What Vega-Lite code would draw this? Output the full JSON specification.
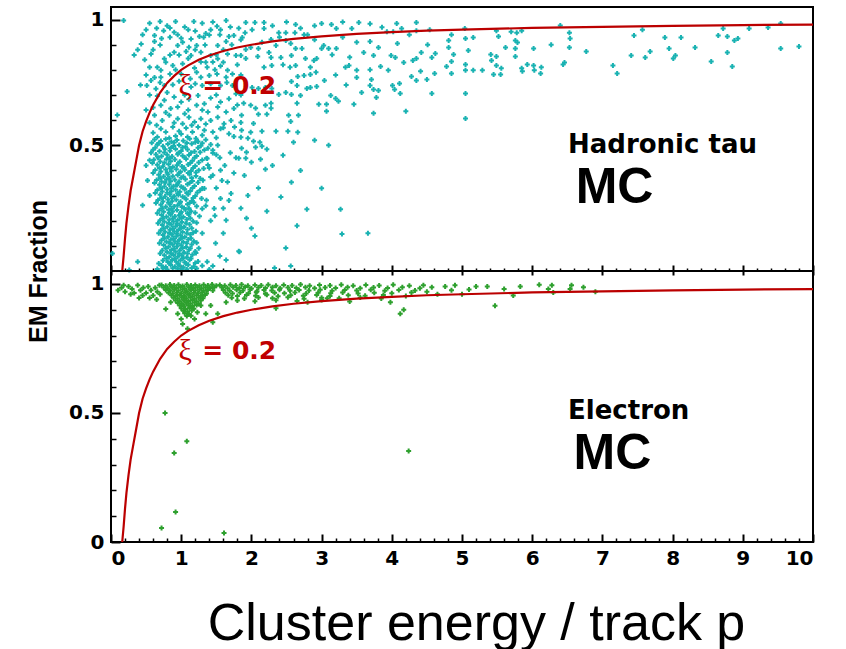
{
"$schema": "https://vega.github.io/schema/vega-lite/v6.json",
"padding": {"left": 25, "top": 6, "right": 5, "bottom": 5},
"background": "white",
"bounds": "flush",
"spacing": 0,
"config": {"view": {"stroke": "black", "strokeWidth": 2}, "axis": {"labelColor": "black", "tickColor": "black", "domain": false, "grid": false, "titleColor": "black", "zindex": 2}},
"datasets": {
"curve": [{"x":0.16,"y":0},{"x":0.18,"y":0.06},{"x":0.2,"y":0.13},{"x":0.22,"y":0.19},{"x":0.25,"y":0.26},{"x":0.28,"y":0.32},{"x":0.32,"y":0.38},{"x":0.36,"y":0.44},{"x":0.4,"y":0.5},{"x":0.45,"y":0.555},{"x":0.5,"y":0.595},{"x":0.55,"y":0.63},{"x":0.6,"y":0.66},{"x":0.7,"y":0.71},{"x":0.8,"y":0.748},{"x":0.9,"y":0.776},{"x":1.0,"y":0.8},{"x":1.1,"y":0.818},{"x":1.25,"y":0.84},{"x":1.4,"y":0.857},{"x":1.6,"y":0.875},{"x":1.8,"y":0.889},{"x":2.0,"y":0.9},{"x":2.3,"y":0.913},{"x":2.6,"y":0.923},{"x":3.0,"y":0.933},{"x":3.5,"y":0.943},{"x":4.0,"y":0.95},{"x":4.5,"y":0.956},{"x":5,"y":0.96},{"x":6,"y":0.967},{"x":7,"y":0.971},{"x":8,"y":0.975},{"x":9,"y":0.978},{"x":10,"y":0.98}],
"tau": [
{"x":3.69,"y":0.983},{"x":3.86,"y":0.969},{"x":4.07,"y":0.984},{"x":4.35,"y":0.988},{"x":4.14,"y":0.964},{"x":3.93,"y":0.952},{"x":4.02,"y":0.952},{"x":4.35,"y":0.956},{"x":4.54,"y":0.96},{"x":4.25,"y":0.94},{"x":3.69,"y":0.913},{"x":3.81,"y":0.889},{"x":4.08,"y":0.905},{"x":4.51,"y":0.9},{"x":3.74,"y":0.857},{"x":3.99,"y":0.857},{"x":4.05,"y":0.849},{"x":4.17,"y":0.829},{"x":4.3,"y":0.837},{"x":4.35,"y":0.845},{"x":4.42,"y":0.869},{"x":4.57,"y":0.849},{"x":4.62,"y":0.865},{"x":3.69,"y":0.8},{"x":3.84,"y":0.813},{"x":3.95,"y":0.798},{"x":3.71,"y":0.762},{"x":3.69,"y":0.738},{"x":3.74,"y":0.722},{"x":3.81,"y":0.718},{"x":3.78,"y":0.69},{"x":4.01,"y":0.738},{"x":4.04,"y":0.722},{"x":4.12,"y":0.706},{"x":4.11,"y":0.746},{"x":4.28,"y":0.774},{"x":4.35,"y":0.758},{"x":4.41,"y":0.794},{"x":4.5,"y":0.762},{"x":4.61,"y":0.786},{"x":4.57,"y":0.706},{"x":3.74,"y":0.627},{"x":4.2,"y":0.635},{"x":4.81,"y":0.917},{"x":4.85,"y":0.94},{"x":5.05,"y":0.925},{"x":5.16,"y":0.929},{"x":5.04,"y":0.964},{"x":4.81,"y":0.889},{"x":5.09,"y":0.877},{"x":4.88,"y":0.861},{"x":4.78,"y":0.813},{"x":4.85,"y":0.833},{"x":5.05,"y":0.821},{"x":5.05,"y":0.798},{"x":5.16,"y":0.798},{"x":5.29,"y":0.798},{"x":4.85,"y":0.786},{"x":5.05,"y":0.706},{"x":5.05,"y":0.607},{"x":5.41,"y":0.861},{"x":5.49,"y":0.853},{"x":5.42,"y":0.837},{"x":5.49,"y":0.817},{"x":5.56,"y":0.806},{"x":5.45,"y":0.782},{"x":5.55,"y":0.782},{"x":5.52,"y":0.933},{"x":5.49,"y":0.956},{"x":5.7,"y":0.952},{"x":5.78,"y":0.948},{"x":5.85,"y":0.956},{"x":5.76,"y":0.917},{"x":5.79,"y":0.909},{"x":5.62,"y":0.889},{"x":5.76,"y":0.885},{"x":5.76,"y":0.853},{"x":5.85,"y":0.806},{"x":5.86,"y":0.794},{"x":5.93,"y":0.821},{"x":6.02,"y":0.817},{"x":6.13,"y":0.81},{"x":6.03,"y":0.798},{"x":6.12,"y":0.786},{"x":6.02,"y":0.885},{"x":6.27,"y":0.9},{"x":6.4,"y":0.976},{"x":6.53,"y":0.948},{"x":6.54,"y":0.925},{"x":6.53,"y":0.889},{"x":6.46,"y":0.829},{"x":6.44,"y":0.821},{"x":6.77,"y":0.873},{"x":7.15,"y":0.817},{"x":7.21,"y":0.786},{"x":7.41,"y":0.857},{"x":7.45,"y":0.937},{"x":7.57,"y":0.96},{"x":7.61,"y":0.849},{"x":7.68,"y":0.873},{"x":7.89,"y":0.929},{"x":7.95,"y":0.885},{"x":8.01,"y":0.845},{"x":8.04,"y":0.857},{"x":8.12,"y":0.929},{"x":8.32,"y":0.889},{"x":8.55,"y":0.833},{"x":8.65,"y":0.937},{"x":8.72,"y":0.964},{"x":8.78,"y":0.933},{"x":8.78,"y":0.869},{"x":8.85,"y":0.813},{"x":8.88,"y":0.917},{"x":8.93,"y":0.925},{"x":9.09,"y":0.964},{"x":9.36,"y":0.968},{"x":9.54,"y":0.984},{"x":9.54,"y":0.885},{"x":9.8,"y":0.893},{"x":3.66,"y":0.15},
{"x":1.92,"y":0.988},{"x":2.05,"y":0.988},{"x":2.18,"y":0.988},{"x":2.18,"y":0.964},{"x":2.01,"y":0.96},{"x":1.91,"y":0.948},{"x":1.87,"y":0.929},{"x":2.63,"y":0.98},{"x":3.0,"y":0.984},{"x":3.14,"y":0.98},{"x":3.21,"y":0.964},{"x":3.43,"y":0.964},{"x":3.53,"y":0.988},{"x":2.39,"y":0.948},{"x":2.49,"y":0.948},{"x":2.62,"y":0.948},{"x":2.75,"y":0.94},{"x":2.8,"y":0.94},{"x":2.28,"y":0.921},{"x":2.49,"y":0.917},{"x":2.35,"y":0.897},{"x":2.56,"y":0.905},{"x":2.63,"y":0.885},{"x":2.72,"y":0.885},{"x":3.03,"y":0.897},{"x":3.0,"y":0.885},{"x":3.1,"y":0.885},{"x":3.21,"y":0.885},{"x":3.6,"y":0.869},{"x":1.92,"y":0.881},{"x":1.99,"y":0.889},{"x":2.1,"y":0.885},{"x":1.85,"y":0.857},{"x":1.92,"y":0.845},{"x":2.09,"y":0.853},{"x":2.28,"y":0.849},{"x":2.42,"y":0.849},{"x":2.18,"y":0.81},{"x":2.29,"y":0.817},{"x":2.55,"y":0.81},{"x":2.63,"y":0.817},{"x":2.77,"y":0.845},{"x":2.89,"y":0.837},{"x":2.93,"y":0.845},{"x":2.66,"y":0.774},{"x":2.75,"y":0.778},{"x":2.84,"y":0.782},{"x":2.92,"y":0.79},{"x":2.57,"y":0.754},{"x":2.65,"y":0.738},{"x":2.79,"y":0.726},{"x":2.84,"y":0.73},{"x":2.93,"y":0.734},{"x":3.04,"y":0.758},{"x":3.34,"y":0.81},{"x":3.39,"y":0.817},{"x":3.5,"y":0.798},{"x":3.5,"y":0.77},{"x":3.57,"y":0.71},{"x":3.13,"y":0.698},{"x":3.2,"y":0.686},{"x":3.24,"y":0.675},{"x":3.07,"y":0.663},{"x":2.96,"y":0.663},{"x":3.07,"y":0.635},{"x":3.46,"y":0.663},{"x":2.7,"y":0.698},{"x":2.65,"y":0.667},{"x":2.57,"y":0.702},{"x":2.39,"y":0.702},{"x":2.49,"y":0.71},{"x":2.29,"y":0.726},{"x":2.2,"y":0.73},{"x":2.1,"y":0.726},{"x":2.01,"y":0.73},{"x":1.89,"y":0.667},{"x":1.99,"y":0.659},{"x":2.06,"y":0.647},{"x":2.2,"y":0.659},{"x":2.28,"y":0.667},{"x":2.28,"y":0.647},{"x":2.1,"y":0.623},{"x":2.22,"y":0.623},{"x":2.53,"y":0.619},{"x":2.67,"y":0.619},{"x":2.56,"y":0.595},{"x":1.86,"y":0.619},{"x":1.85,"y":0.591},{"x":2.03,"y":0.587},{"x":1.86,"y":0.56},{"x":1.99,"y":0.552},{"x":2.15,"y":0.556},{"x":2.35,"y":0.556},{"x":2.52,"y":0.556},{"x":2.66,"y":0.552},{"x":2.25,"y":0.869},{"x":2.84,"y":0.81},{"x":2.57,"y":0.857},
{"x":1.85,"y":0.532},{"x":1.95,"y":0.528},{"x":2.03,"y":0.516},{"x":2.12,"y":0.512},{"x":2.15,"y":0.496},{"x":2.06,"y":0.492},{"x":1.86,"y":0.488},{"x":1.93,"y":0.472},{"x":2.22,"y":0.484},{"x":1.92,"y":0.448},{"x":1.82,"y":0.448},{"x":2.0,"y":0.433},{"x":2.13,"y":0.444},{"x":2.2,"y":0.405},{"x":2.6,"y":0.512},{"x":2.57,"y":0.353},{"x":3.0,"y":0.329},{"x":2.42,"y":0.294},{"x":2.79,"y":0.246},{"x":3.27,"y":0.246},{"x":2.22,"y":0.238},{"x":1.93,"y":0.21},{"x":2.05,"y":0.139},{"x":3.29,"y":0.147},{"x":2.49,"y":0.091},{"x":1.82,"y":0.079},{"x":2.33,"y":0.012},{"x":2.56,"y":0.02},
{"x":0.18,"y":0.996},{"x":0.7,"y":0.992},{"x":0.92,"y":0.992},{"x":1.18,"y":0.992},{"x":1.64,"y":0.996},{"x":0.5,"y":0.96},{"x":0.75,"y":0.956},{"x":0.84,"y":0.966},{"x":0.9,"y":0.95},{"x":1.42,"y":0.96},{"x":1.51,"y":0.973},{"x":1.56,"y":0.96},{"x":0.62,"y":0.937},{"x":0.84,"y":0.93},{"x":1.0,"y":0.926},{"x":1.14,"y":0.923},{"x":1.26,"y":0.933},{"x":1.32,"y":0.93},{"x":1.4,"y":0.939},{"x":1.68,"y":0.933},{"x":1.75,"y":0.937},{"x":0.43,"y":0.903},{"x":0.62,"y":0.913},{"x":0.7,"y":0.899},{"x":0.95,"y":0.897},{"x":1.02,"y":0.91},{"x":1.11,"y":0.89},{"x":1.22,"y":0.897},{"x":1.34,"y":0.899},{"x":1.52,"y":0.897},{"x":1.64,"y":0.913},{"x":0.33,"y":0.859},{"x":0.57,"y":0.863},{"x":0.76,"y":0.844},{"x":0.84,"y":0.859},{"x":0.97,"y":0.859},{"x":1.07,"y":0.873},{"x":1.14,"y":0.857},{"x":1.28,"y":0.87},{"x":1.42,"y":0.857},{"x":1.52,"y":0.844},{"x":1.66,"y":0.863},{"x":1.78,"y":0.857},{"x":0.66,"y":0.81},{"x":0.71,"y":0.798},{"x":0.88,"y":0.817},{"x":1.02,"y":0.824},{"x":1.19,"y":0.807},{"x":1.28,"y":0.831},{"x":1.37,"y":0.81},{"x":1.45,"y":0.831},{"x":1.56,"y":0.815},{"x":1.66,"y":0.798},{"x":0.5,"y":0.78},{"x":0.57,"y":0.758},{"x":0.71,"y":0.771},{"x":0.84,"y":0.784},{"x":1.0,"y":0.784},{"x":1.13,"y":0.765},{"x":1.28,"y":0.771},{"x":1.4,"y":0.778},{"x":1.51,"y":0.784},{"x":1.64,"y":0.771},{"x":1.73,"y":0.784},{"x":0.23,"y":0.714},{"x":0.51,"y":0.738},{"x":0.64,"y":0.725},{"x":0.76,"y":0.738},{"x":0.88,"y":0.741},{"x":1.14,"y":0.732},{"x":1.3,"y":0.738},{"x":1.42,"y":0.745},{"x":1.56,"y":0.738},{"x":1.73,"y":0.738},{"x":0.66,"y":0.696},{"x":0.76,"y":0.679},{"x":0.9,"y":0.692},{"x":1.0,"y":0.672},{"x":1.11,"y":0.683},{"x":1.24,"y":0.698},{"x":1.33,"y":0.665},{"x":1.42,"y":0.688},{"x":1.56,"y":0.672},{"x":1.68,"y":0.685},{"x":1.78,"y":0.705},{"x":0.09,"y":0.62},{"x":0.71,"y":0.659},{"x":0.85,"y":0.646},{"x":0.95,"y":0.652},{"x":1.1,"y":0.64},{"x":1.22,"y":0.659},{"x":1.38,"y":0.632},{"x":1.52,"y":0.652},{"x":1.64,"y":0.632},{"x":1.75,"y":0.646},{"x":0.62,"y":0.619},{"x":0.73,"y":0.599},{"x":0.83,"y":0.619},{"x":0.95,"y":0.606},{"x":1.02,"y":0.586},{"x":1.11,"y":0.612},{"x":1.19,"y":0.593},{"x":1.28,"y":0.606},{"x":1.42,"y":0.599},{"x":1.52,"y":0.612},{"x":1.61,"y":0.586},{"x":1.71,"y":0.599},{"x":0.71,"y":0.566},{"x":0.78,"y":0.553},{"x":0.88,"y":0.573},{"x":0.97,"y":0.556},{"x":1.07,"y":0.569},{"x":1.16,"y":0.553},{"x":1.24,"y":0.573},{"x":1.33,"y":0.56},{"x":1.45,"y":0.553},{"x":1.56,"y":0.566},{"x":1.68,"y":0.546},{"x":1.76,"y":0.573},{"x":0.66,"y":0.533},{"x":0.83,"y":0.529},{"x":0.92,"y":0.537},{"x":1.09,"y":0.533},{"x":1.21,"y":0.527},
{"x":0.55,"y":0.985},{"x":0.8,"y":0.975},{"x":1.05,"y":0.97},{"x":1.3,"y":0.985},{"x":1.45,"y":0.99},{"x":1.7,"y":0.97},{"x":0.65,"y":0.965},{"x":1.2,"y":0.955},{"x":1.35,"y":0.945},{"x":1.55,"y":0.94},{"x":1.82,"y":0.965},{"x":0.95,"y":0.94},{"x":1.1,"y":0.96},{"x":0.72,"y":0.925},{"x":0.45,"y":0.94},{"x":0.38,"y":0.88},{"x":0.48,"y":0.84},{"x":0.6,"y":0.88},{"x":1.6,"y":0.88},{"x":1.72,"y":0.9},{"x":1.85,"y":0.92},{"x":0.9,"y":0.87},{"x":1.2,"y":0.88},{"x":1.5,"y":0.86},{"x":0.55,"y":0.81},{"x":0.78,"y":0.83},{"x":1.1,"y":0.845},{"x":1.35,"y":0.83},{"x":1.6,"y":0.83},{"x":1.8,"y":0.82},{"x":0.62,"y":0.77},{"x":0.92,"y":0.8},{"x":1.22,"y":0.79},{"x":1.48,"y":0.8},{"x":1.85,"y":0.78},{"x":0.42,"y":0.74},{"x":0.7,"y":0.75},{"x":0.97,"y":0.755},{"x":1.2,"y":0.745},{"x":1.65,"y":0.75},{"x":0.55,"y":0.7},{"x":0.8,"y":0.71},{"x":1.05,"y":0.7},{"x":1.5,"y":0.7},{"x":1.85,"y":0.7},{"x":0.5,"y":0.64},{"x":0.6,"y":0.65},{"x":0.78,"y":0.63},{"x":1.05,"y":0.625},{"x":1.3,"y":0.64},{"x":1.8,"y":0.66},{"x":0.55,"y":0.59},{"x":0.65,"y":0.58},{"x":0.9,"y":0.59},{"x":1.15,"y":0.58},{"x":1.35,"y":0.585},{"x":1.6,"y":0.57},{"x":0.6,"y":0.55},{"x":1.0,"y":0.545},{"x":1.3,"y":0.54},{"x":1.5,"y":0.53},{"x":1.75,"y":0.535},
{"x":2.3,"y":0.975},{"x":2.5,"y":0.99},{"x":2.7,"y":0.965},{"x":2.9,"y":0.975},{"x":3.3,"y":0.99},{"x":2.4,"y":0.93},{"x":2.9,"y":0.92},{"x":3.3,"y":0.93},{"x":3.5,"y":0.91},{"x":2.15,"y":0.91},{"x":3.15,"y":0.86},{"x":3.4,"y":0.85},{"x":2.45,"y":0.82},{"x":3.2,"y":0.78},{"x":3.35,"y":0.74},
{"x":0.62,"y":0.523},{"x":0.71,"y":0.517},{"x":0.78,"y":0.525},{"x":0.86,"y":0.514},{"x":0.94,"y":0.521},{"x":1.03,"y":0.518},{"x":1.12,"y":0.526},{"x":1.24,"y":0.515},{"x":1.35,"y":0.522},
{"x":0.66,"y":0.503},{"x":0.74,"y":0.496},{"x":0.81,"y":0.505},{"x":0.89,"y":0.497},{"x":0.97,"y":0.501},{"x":1.06,"y":0.494},{"x":1.15,"y":0.506},{"x":1.28,"y":0.498},{"x":1.42,"y":0.503},
{"x":0.6,"y":0.482},{"x":0.69,"y":0.476},{"x":0.77,"y":0.484},{"x":0.84,"y":0.478},{"x":0.92,"y":0.485},{"x":1.0,"y":0.477},{"x":1.09,"y":0.483},{"x":1.19,"y":0.475},{"x":1.33,"y":0.481},
{"x":0.64,"y":0.463},{"x":0.72,"y":0.456},{"x":0.8,"y":0.462},{"x":0.87,"y":0.455},{"x":0.95,"y":0.464},{"x":1.02,"y":0.458},{"x":1.11,"y":0.461},{"x":1.22,"y":0.457},{"x":1.5,"y":0.462},
{"x":0.61,"y":0.442},{"x":0.7,"y":0.436},{"x":0.79,"y":0.444},{"x":0.85,"y":0.437},{"x":0.91,"y":0.443},{"x":0.98,"y":0.435},{"x":1.07,"y":0.445},{"x":1.16,"y":0.438},{"x":1.3,"y":0.441},
{"x":0.66,"y":0.423},{"x":0.74,"y":0.417},{"x":0.82,"y":0.425},{"x":0.88,"y":0.414},{"x":0.94,"y":0.421},{"x":1.01,"y":0.416},{"x":1.1,"y":0.424},{"x":1.2,"y":0.418},{"x":1.38,"y":0.422},
{"x":0.63,"y":0.402},{"x":0.71,"y":0.396},{"x":0.78,"y":0.404},{"x":0.86,"y":0.397},{"x":0.93,"y":0.405},{"x":0.99,"y":0.395},{"x":1.05,"y":0.403},{"x":1.14,"y":0.398},{"x":1.25,"y":0.401},
{"x":0.68,"y":0.383},{"x":0.75,"y":0.376},{"x":0.81,"y":0.384},{"x":0.88,"y":0.377},{"x":0.95,"y":0.382},{"x":1.03,"y":0.375},{"x":1.12,"y":0.385},{"x":1.21,"y":0.378},{"x":1.45,"y":0.381},
{"x":0.65,"y":0.362},{"x":0.72,"y":0.356},{"x":0.79,"y":0.364},{"x":0.85,"y":0.357},{"x":0.91,"y":0.363},{"x":0.97,"y":0.355},{"x":1.06,"y":0.365},{"x":1.16,"y":0.358},{"x":1.31,"y":0.361},
{"x":0.69,"y":0.343},{"x":0.76,"y":0.336},{"x":0.83,"y":0.344},{"x":0.89,"y":0.337},{"x":0.94,"y":0.342},{"x":1.0,"y":0.335},{"x":1.09,"y":0.345},{"x":1.19,"y":0.338},
{"x":0.66,"y":0.322},{"x":0.73,"y":0.316},{"x":0.8,"y":0.324},{"x":0.86,"y":0.317},{"x":0.92,"y":0.323},{"x":0.98,"y":0.315},{"x":1.05,"y":0.325},{"x":1.13,"y":0.318},{"x":1.27,"y":0.321},
{"x":0.7,"y":0.303},{"x":0.77,"y":0.296},{"x":0.84,"y":0.304},{"x":0.9,"y":0.297},{"x":0.96,"y":0.302},{"x":1.02,"y":0.295},{"x":1.1,"y":0.305},{"x":1.2,"y":0.298},
{"x":0.67,"y":0.282},{"x":0.74,"y":0.276},{"x":0.81,"y":0.284},{"x":0.87,"y":0.277},{"x":0.93,"y":0.283},{"x":0.99,"y":0.275},{"x":1.07,"y":0.285},{"x":1.15,"y":0.278},{"x":1.36,"y":0.281},
{"x":0.71,"y":0.263},{"x":0.78,"y":0.256},{"x":0.84,"y":0.264},{"x":0.9,"y":0.257},{"x":0.95,"y":0.262},{"x":1.01,"y":0.255},{"x":1.09,"y":0.265},{"x":1.22,"y":0.258},
{"x":0.69,"y":0.242},{"x":0.75,"y":0.236},{"x":0.82,"y":0.244},{"x":0.88,"y":0.237},{"x":0.94,"y":0.243},{"x":1.0,"y":0.235},{"x":1.06,"y":0.245},{"x":1.14,"y":0.238},
{"x":0.72,"y":0.223},{"x":0.79,"y":0.216},{"x":0.85,"y":0.224},{"x":0.91,"y":0.217},{"x":0.97,"y":0.222},{"x":1.03,"y":0.215},{"x":1.11,"y":0.225},{"x":1.26,"y":0.218},
{"x":0.7,"y":0.202},{"x":0.76,"y":0.196},{"x":0.83,"y":0.204},{"x":0.89,"y":0.197},{"x":0.95,"y":0.203},{"x":1.01,"y":0.195},{"x":1.08,"y":0.205},{"x":1.17,"y":0.198},
{"x":0.73,"y":0.183},{"x":0.8,"y":0.176},{"x":0.86,"y":0.184},{"x":0.92,"y":0.177},{"x":0.98,"y":0.182},{"x":1.04,"y":0.175},{"x":1.12,"y":0.185},
{"x":0.71,"y":0.162},{"x":0.77,"y":0.156},{"x":0.84,"y":0.164},{"x":0.9,"y":0.157},{"x":0.96,"y":0.163},{"x":1.02,"y":0.155},{"x":1.09,"y":0.165},{"x":1.21,"y":0.158},
{"x":0.74,"y":0.143},{"x":0.81,"y":0.136},{"x":0.87,"y":0.144},{"x":0.93,"y":0.137},{"x":0.99,"y":0.142},{"x":1.05,"y":0.135},{"x":1.13,"y":0.145},
{"x":0.72,"y":0.122},{"x":0.79,"y":0.116},{"x":0.85,"y":0.124},{"x":0.91,"y":0.117},{"x":0.97,"y":0.123},{"x":1.03,"y":0.115},{"x":1.1,"y":0.125},{"x":1.18,"y":0.118},
{"x":0.75,"y":0.103},{"x":0.82,"y":0.096},{"x":0.88,"y":0.104},{"x":0.94,"y":0.097},{"x":1.0,"y":0.102},{"x":1.07,"y":0.095},{"x":1.15,"y":0.105},
{"x":0.73,"y":0.082},{"x":0.8,"y":0.076},{"x":0.86,"y":0.084},{"x":0.92,"y":0.077},{"x":0.98,"y":0.083},{"x":1.04,"y":0.075},{"x":1.11,"y":0.085},{"x":1.2,"y":0.078},
{"x":0.76,"y":0.063},{"x":0.83,"y":0.056},{"x":0.89,"y":0.064},{"x":0.95,"y":0.057},{"x":1.01,"y":0.062},{"x":1.08,"y":0.055},{"x":1.16,"y":0.065},
{"x":0.74,"y":0.042},{"x":0.81,"y":0.036},{"x":0.87,"y":0.044},{"x":0.93,"y":0.037},{"x":0.99,"y":0.043},{"x":1.05,"y":0.035},{"x":1.12,"y":0.045},{"x":1.24,"y":0.038},
{"x":0.72,"y":0.022},{"x":0.78,"y":0.016},{"x":0.85,"y":0.024},{"x":0.91,"y":0.017},{"x":0.97,"y":0.023},{"x":1.03,"y":0.015},{"x":1.1,"y":0.025},{"x":1.18,"y":0.018},{"x":1.3,"y":0.021},
{"x":0.66,"y":0.008},{"x":0.8,"y":0.006},{"x":0.95,"y":0.009},{"x":1.08,"y":0.007},{"x":1.22,"y":0.01},{"x":1.4,"y":0.006},
{"x":0.58,"y":0.51},{"x":0.68,"y":0.508},{"x":0.9,"y":0.511},{"x":1.08,"y":0.509},{"x":1.2,"y":0.512},{"x":1.3,"y":0.508},
{"x":0.63,"y":0.49},{"x":0.85,"y":0.489},{"x":1.02,"y":0.491},{"x":1.24,"y":0.49},{"x":1.38,"y":0.488},
{"x":0.57,"y":0.47},{"x":0.76,"y":0.471},{"x":0.96,"y":0.469},{"x":1.14,"y":0.47},{"x":1.27,"y":0.472},{"x":1.45,"y":0.469},
{"x":0.67,"y":0.45},{"x":0.83,"y":0.449},{"x":1.05,"y":0.451},{"x":1.19,"y":0.45},{"x":1.36,"y":0.448},
{"x":0.59,"y":0.43},{"x":0.76,"y":0.431},{"x":0.96,"y":0.429},{"x":1.13,"y":0.43},{"x":1.25,"y":0.432},
{"x":0.69,"y":0.41},{"x":0.84,"y":0.409},{"x":1.04,"y":0.411},{"x":1.17,"y":0.41},{"x":1.32,"y":0.408},
{"x":0.6,"y":0.39},{"x":0.8,"y":0.391},{"x":0.97,"y":0.389},{"x":1.1,"y":0.39},{"x":1.21,"y":0.392},
{"x":0.7,"y":0.37},{"x":0.83,"y":0.369},{"x":1.0,"y":0.371},{"x":1.15,"y":0.37},{"x":1.27,"y":0.368},
{"x":0.62,"y":0.35},{"x":0.77,"y":0.351},{"x":0.95,"y":0.349},{"x":1.12,"y":0.35},{"x":1.24,"y":0.352},
{"x":0.71,"y":0.33},{"x":0.86,"y":0.329},{"x":1.03,"y":0.331},{"x":1.16,"y":0.33},{"x":1.33,"y":0.328},
{"x":0.63,"y":0.31},{"x":0.8,"y":0.311},{"x":0.95,"y":0.309},{"x":1.08,"y":0.31},{"x":1.23,"y":0.312},
{"x":0.72,"y":0.29},{"x":0.87,"y":0.289},{"x":1.05,"y":0.291},{"x":1.17,"y":0.29},{"x":1.29,"y":0.288},
{"x":0.64,"y":0.27},{"x":0.82,"y":0.271},{"x":0.98,"y":0.269},{"x":1.12,"y":0.27},{"x":1.18,"y":0.272},
{"x":0.73,"y":0.25},{"x":0.86,"y":0.249},{"x":1.04,"y":0.251},{"x":1.11,"y":0.25},{"x":1.3,"y":0.248},
{"x":0.66,"y":0.23},{"x":0.83,"y":0.231},{"x":0.99,"y":0.229},{"x":1.09,"y":0.23},{"x":1.2,"y":0.232},
{"x":0.74,"y":0.21},{"x":0.88,"y":0.209},{"x":1.0,"y":0.211},{"x":1.13,"y":0.21},
{"x":0.67,"y":0.19},{"x":0.82,"y":0.191},{"x":0.94,"y":0.189},{"x":1.07,"y":0.19},{"x":1.22,"y":0.192},
{"x":0.75,"y":0.17},{"x":0.88,"y":0.169},{"x":1.0,"y":0.171},{"x":1.15,"y":0.17},
{"x":0.68,"y":0.15},{"x":0.83,"y":0.151},{"x":0.94,"y":0.149},{"x":1.08,"y":0.15},{"x":1.17,"y":0.152},
{"x":0.76,"y":0.13},{"x":0.89,"y":0.129},{"x":1.01,"y":0.131},{"x":1.14,"y":0.13},
{"x":0.69,"y":0.11},{"x":0.84,"y":0.111},{"x":0.95,"y":0.109},{"x":1.08,"y":0.11},{"x":1.22,"y":0.112},
{"x":0.78,"y":0.09},{"x":0.9,"y":0.089},{"x":1.02,"y":0.091},{"x":1.13,"y":0.09},
{"x":0.7,"y":0.07},{"x":0.85,"y":0.071},{"x":0.97,"y":0.069},{"x":1.09,"y":0.07},{"x":1.21,"y":0.072},
{"x":0.79,"y":0.05},{"x":0.91,"y":0.049},{"x":1.03,"y":0.051},{"x":1.14,"y":0.05},
{"x":0.68,"y":0.03},{"x":0.84,"y":0.031},{"x":0.96,"y":0.029},{"x":1.07,"y":0.03},{"x":1.2,"y":0.032},
{"x":0.74,"y":0.01},{"x":0.88,"y":0.011},{"x":1.01,"y":0.009},{"x":1.15,"y":0.012},
{"x":0.52,"y":0.36},{"x":0.55,"y":0.3},{"x":0.5,"y":0.42},{"x":1.48,"y":0.22},{"x":1.58,"y":0.36},{"x":1.68,"y":0.28},{"x":1.78,"y":0.45},{"x":1.9,"y":0.38},{"x":1.95,"y":0.3},{"x":2.1,"y":0.33},{"x":2.3,"y":0.42},{"x":2.45,"y":0.46},{"x":2.7,"y":0.4},{"x":2.9,"y":0.52},{"x":3.1,"y":0.5},{"x":2.0,"y":0.17},{"x":2.65,"y":0.18},{"x":1.85,"y":0.25},{"x":1.6,"y":0.15},{"x":1.55,"y":0.06},{"x":1.45,"y":0.02},
{"x":0.45,"y":0.262},{"x":0.55,"y":0.44},{"x":0.02,"y":0.07},{"x":0.38,"y":0.037},{"x":0.26,"y":0.004},{"x":1.37,"y":0.037},{"x":1.49,"y":0.11},{"x":1.64,"y":0.044},{"x":1.83,"y":0.077},{"x":1.56,"y":0.288},{"x":1.64,"y":0.202},{"x":1.47,"y":0.249},{"x":1.71,"y":0.308},{"x":1.52,"y":0.5},{"x":1.37,"y":0.447},{"x":1.56,"y":0.401},{"x":1.66,"y":0.354},{"x":1.42,"y":0.374},{"x":1.3,"y":0.328},{"x":1.45,"y":0.48},{"x":1.55,"y":0.45},{"x":1.62,"y":0.42},{"x":1.4,"y":0.41},{"x":1.7,"y":0.47},{"x":1.75,"y":0.39},{"x":1.5,"y":0.33},{"x":1.35,"y":0.26},{"x":1.42,"y":0.2},{"x":1.3,"y":0.15},{"x":1.6,"y":0.25},{"x":1.25,"y":0.09}
],
"ele": [
{"x":0.72,"y":0.996},{"x":0.78,"y":0.993},{"x":0.84,"y":0.998},{"x":0.9,"y":0.994},{"x":0.96,"y":0.997},{"x":1.02,"y":0.992},{"x":1.08,"y":0.998},{"x":1.14,"y":0.994},{"x":1.2,"y":0.996},{"x":1.26,"y":0.993},{"x":1.32,"y":0.997},{"x":1.38,"y":0.994},{"x":1.44,"y":0.998},{"x":1.5,"y":0.993},
{"x":0.75,"y":0.986},{"x":0.81,"y":0.983},{"x":0.87,"y":0.987},{"x":0.93,"y":0.984},{"x":0.99,"y":0.988},{"x":1.05,"y":0.982},{"x":1.11,"y":0.986},{"x":1.17,"y":0.984},{"x":1.23,"y":0.987},{"x":1.29,"y":0.983},{"x":1.35,"y":0.986},{"x":1.41,"y":0.984},{"x":1.47,"y":0.987},
{"x":0.78,"y":0.976},{"x":0.84,"y":0.973},{"x":0.9,"y":0.977},{"x":0.96,"y":0.974},{"x":1.02,"y":0.978},{"x":1.08,"y":0.972},{"x":1.14,"y":0.976},{"x":1.2,"y":0.974},{"x":1.26,"y":0.977},{"x":1.32,"y":0.973},{"x":1.38,"y":0.976},{"x":1.45,"y":0.974},
{"x":0.82,"y":0.966},{"x":0.88,"y":0.963},{"x":0.94,"y":0.967},{"x":1.0,"y":0.964},{"x":1.06,"y":0.968},{"x":1.12,"y":0.962},{"x":1.18,"y":0.966},{"x":1.24,"y":0.964},{"x":1.3,"y":0.967},{"x":1.36,"y":0.963},
{"x":0.86,"y":0.956},{"x":0.92,"y":0.953},{"x":0.98,"y":0.957},{"x":1.04,"y":0.954},{"x":1.1,"y":0.958},{"x":1.16,"y":0.952},{"x":1.22,"y":0.956},{"x":1.28,"y":0.954},{"x":1.34,"y":0.957},
{"x":0.89,"y":0.946},{"x":0.95,"y":0.943},{"x":1.01,"y":0.947},{"x":1.07,"y":0.944},{"x":1.13,"y":0.948},{"x":1.19,"y":0.942},{"x":1.25,"y":0.946},{"x":1.31,"y":0.944},
{"x":0.92,"y":0.936},{"x":0.98,"y":0.933},{"x":1.04,"y":0.937},{"x":1.1,"y":0.934},{"x":1.16,"y":0.938},{"x":1.22,"y":0.932},{"x":1.28,"y":0.936},
{"x":0.95,"y":0.926},{"x":1.01,"y":0.923},{"x":1.07,"y":0.927},{"x":1.13,"y":0.924},{"x":1.19,"y":0.928},{"x":1.25,"y":0.922},
{"x":0.98,"y":0.916},{"x":1.04,"y":0.913},{"x":1.1,"y":0.917},{"x":1.16,"y":0.914},{"x":1.22,"y":0.918},
{"x":1.0,"y":0.906},{"x":1.06,"y":0.903},{"x":1.12,"y":0.907},{"x":1.18,"y":0.904},
{"x":1.03,"y":0.896},{"x":1.09,"y":0.893},{"x":1.15,"y":0.897},{"x":1.05,"y":0.886},{"x":1.11,"y":0.883},{"x":1.08,"y":0.876},
{"x":0.78,"y":0.903},{"x":1.0,"y":0.864},{"x":1.09,"y":0.826},{"x":1.19,"y":0.864},{"x":1.23,"y":0.89},{"x":1.35,"y":0.884},{"x":1.42,"y":0.916},{"x":1.52,"y":0.884},{"x":1.64,"y":0.929},{"x":1.45,"y":0.851},{"x":1.02,"y":0.845},{"x":1.14,"y":0.877},{"x":0.95,"y":0.884},{"x":1.28,"y":0.916},{"x":0.85,"y":0.929},{"x":2.35,"y":0.906},{"x":2.8,"y":0.929},{"x":3.08,"y":0.944},{"x":3.98,"y":0.929},{"x":4.12,"y":0.884},{"x":4.17,"y":0.9},{"x":5.47,"y":0.915},
{"x":0.1,"y":0.975},{"x":0.15,"y":0.985},{"x":0.2,"y":0.97},{"x":0.25,"y":0.99},{"x":0.3,"y":0.98},{"x":0.33,"y":0.965},{"x":0.38,"y":0.995},{"x":0.42,"y":0.975},{"x":0.46,"y":0.985},{"x":0.5,"y":0.965},{"x":0.53,"y":0.99},{"x":0.57,"y":0.975},{"x":0.6,"y":0.955},{"x":0.63,"y":0.985},{"x":0.66,"y":0.97},{"x":0.69,"y":0.995},{"x":0.45,"y":0.955},{"x":0.55,"y":0.945},{"x":0.65,"y":0.94},{"x":0.7,"y":0.96},{"x":0.18,"y":0.995},{"x":0.28,"y":0.96},{"x":0.4,"y":0.945},
{"x":1.55,"y":0.996},{"x":1.62,"y":0.993},{"x":1.7,"y":0.997},{"x":1.78,"y":0.994},{"x":1.86,"y":0.998},{"x":1.95,"y":0.993},{"x":2.05,"y":0.996},{"x":2.14,"y":0.994},{"x":2.24,"y":0.997},{"x":2.35,"y":0.993},{"x":2.46,"y":0.996},{"x":2.58,"y":0.994},{"x":2.7,"y":0.998},{"x":2.83,"y":0.993},{"x":2.97,"y":0.996},{"x":3.12,"y":0.994},{"x":3.28,"y":0.997},{"x":3.45,"y":0.993},{"x":3.63,"y":0.996},{"x":3.82,"y":0.994},{"x":4.02,"y":0.997},{"x":4.25,"y":0.993},
{"x":1.58,"y":0.986},{"x":1.66,"y":0.983},{"x":1.74,"y":0.987},{"x":1.83,"y":0.984},{"x":1.91,"y":0.988},{"x":2.0,"y":0.982},{"x":2.1,"y":0.986},{"x":2.2,"y":0.984},{"x":2.3,"y":0.987},{"x":2.41,"y":0.983},{"x":2.52,"y":0.986},{"x":2.64,"y":0.984},{"x":2.77,"y":0.987},{"x":2.9,"y":0.983},{"x":3.05,"y":0.986},{"x":3.2,"y":0.984},{"x":3.37,"y":0.987},{"x":3.55,"y":0.983},{"x":3.74,"y":0.986},{"x":3.94,"y":0.984},{"x":4.15,"y":0.987},{"x":4.4,"y":0.983},
{"x":1.6,"y":0.976},{"x":1.69,"y":0.973},{"x":1.79,"y":0.977},{"x":1.88,"y":0.974},{"x":1.98,"y":0.978},{"x":2.08,"y":0.972},{"x":2.18,"y":0.976},{"x":2.29,"y":0.974},{"x":2.4,"y":0.977},{"x":2.55,"y":0.973},{"x":2.68,"y":0.976},{"x":2.82,"y":0.974},{"x":2.98,"y":0.977},{"x":3.15,"y":0.973},{"x":3.33,"y":0.976},{"x":3.5,"y":0.974},{"x":3.7,"y":0.977},{"x":3.9,"y":0.973},{"x":4.1,"y":0.976},{"x":4.33,"y":0.974},
{"x":1.63,"y":0.966},{"x":1.73,"y":0.963},{"x":1.84,"y":0.967},{"x":1.96,"y":0.964},{"x":2.07,"y":0.968},{"x":2.2,"y":0.962},{"x":2.33,"y":0.966},{"x":2.47,"y":0.964},{"x":2.62,"y":0.967},{"x":2.78,"y":0.963},{"x":2.95,"y":0.966},{"x":3.13,"y":0.964},{"x":3.3,"y":0.967},{"x":3.52,"y":0.963},{"x":3.75,"y":0.966},{"x":4.0,"y":0.964},{"x":4.28,"y":0.967},
{"x":1.67,"y":0.956},{"x":1.8,"y":0.953},{"x":1.93,"y":0.957},{"x":2.06,"y":0.954},{"x":2.22,"y":0.958},{"x":2.38,"y":0.952},{"x":2.56,"y":0.956},{"x":2.74,"y":0.954},{"x":2.93,"y":0.957},{"x":3.12,"y":0.953},{"x":3.38,"y":0.956},{"x":3.62,"y":0.954},{"x":3.88,"y":0.957},{"x":4.2,"y":0.953},
{"x":1.72,"y":0.946},{"x":1.9,"y":0.943},{"x":2.1,"y":0.947},{"x":2.3,"y":0.944},{"x":2.52,"y":0.948},{"x":2.75,"y":0.942},{"x":3.0,"y":0.946},{"x":3.25,"y":0.944},{"x":3.55,"y":0.947},{"x":3.85,"y":0.943},
{"x":1.8,"y":0.936},{"x":2.05,"y":0.933},{"x":2.35,"y":0.937},{"x":2.65,"y":0.934},{"x":3.0,"y":0.938},{"x":3.4,"y":0.932},
{"x":4.57,"y":0.987},{"x":4.76,"y":0.99},{"x":5.1,"y":0.978},{"x":5.2,"y":0.99},{"x":5.36,"y":0.99},{"x":5.6,"y":0.98},{"x":5.73,"y":0.955},{"x":5.83,"y":0.99},{"x":6.1,"y":0.997},{"x":6.23,"y":0.98},{"x":6.28,"y":0.995},{"x":6.56,"y":0.995},{"x":6.3,"y":0.967},{"x":6.54,"y":0.98},{"x":6.73,"y":0.987},{"x":6.9,"y":0.97},{"x":4.5,"y":0.97},{"x":4.65,"y":0.96},{"x":4.85,"y":0.975},{"x":5.0,"y":0.96},{"x":4.45,"y":0.995},{"x":4.9,"y":0.995},
{"x":0.77,"y":0.5},{"x":1.08,"y":0.39},{"x":0.9,"y":0.345},{"x":0.92,"y":0.116},{"x":0.72,"y":0.054},{"x":1.61,"y":0.035},{"x":4.24,"y":0.353}
]
},
"vconcat": [
{
"width": 702, "height": 264,
"resolve": {"axis": {"x": "independent", "y": "independent"}},
"layer": [
{"data": {"name": "tau"},
 "mark": {"type": "point", "shape": "cross", "filled": true, "size": 25, "color": "#19b2b2", "opacity": 1},
 "encoding": {
  "x": {"field": "x", "type": "quantitative", "scale": {"domain": [0, 10], "nice": false, "zero": false},
        "axis": {"orient": "bottom", "values": [0,1,2,3,4,5,6,7,8,9,10], "labels": false, "offset": -6, "tickSize": 6, "tickWidth": 2, "tickColor": "black", "title": null}},
  "y": {"field": "y", "type": "quantitative", "scale": {"domain": [0, 1.05], "nice": false, "zero": false},
        "axis": {"orient": "left", "values": [0.5, 1], "format": "~g", "offset": -9, "tickSize": 9, "tickWidth": 2, "tickColor": "black", "labelPadding": 7, "labelFont": "DejaVu Sans", "labelFontWeight": "bold", "labelFontSize": 20,
                 "title": "EM Fraction", "titleFont": "Liberation Sans", "titleFontSize": 25, "titleFontWeight": "bold", "titleX": -74, "titleY": 264, "titleAngle": 270, "titleBaseline": "alphabetic", "titleAlign": "center"}}
 }},
{"data": {"name": "curve"},
 "mark": {"type": "line", "color": "#bb0000", "strokeWidth": 2.2, "clip": true},
 "encoding": {
  "x": {"field": "x", "type": "quantitative", "scale": {"domain": [0, 10], "nice": false, "zero": false},
        "axis": {"orient": "bottom", "values": [0.2,0.4,0.6,0.8,1.2,1.4,1.6,1.8,2.2,2.4,2.6,2.8,3.2,3.4,3.6,3.8,4.2,4.4,4.6,4.8,5.2,5.4,5.6,5.8,6.2,6.4,6.6,6.8,7.2,7.4,7.6,7.8,8.2,8.4,8.6,8.8,9.2,9.4,9.6,9.8], "labels": false, "offset": -3, "tickSize": 3, "tickWidth": 1.5, "tickColor": "black", "title": null}},
  "y": {"field": "y", "type": "quantitative", "scale": {"domain": [0, 1.05], "nice": false, "zero": false},
        "axis": {"orient": "left", "values": [0.1,0.2,0.3,0.4,0.6,0.7,0.8,0.9], "labels": false, "offset": -5, "tickSize": 5, "tickWidth": 1.5, "tickColor": "black", "title": null}}
 }},
{"data": {"values": [{"x": 0.96, "y": 0.734, "t": "ξ"}]},
 "mark": {"type": "text", "align": "left", "baseline": "middle", "font": "Liberation Serif", "fontSize": 30, "color": "#c00000"},
 "encoding": {"x": {"field": "x", "type": "quantitative", "axis": null}, "y": {"field": "y", "type": "quantitative", "axis": null}, "text": {"field": "t"}}},
{"data": {"values": [{"x": 1.3, "y": 0.734, "t": "= 0.2"}]},
 "mark": {"type": "text", "align": "left", "baseline": "middle", "font": "DejaVu Sans", "fontWeight": "bold", "fontSize": 25, "color": "#c00000"},
 "encoding": {"x": {"field": "x", "type": "quantitative", "axis": null}, "y": {"field": "y", "type": "quantitative", "axis": null}, "text": {"field": "t"}}},
{"data": {"values": [{"x": 6.51, "y": 0.5, "t": "Hadronic tau"}]},
 "mark": {"type": "text", "align": "left", "baseline": "middle", "font": "DejaVu Sans", "fontWeight": "bold", "fontSize": 26, "color": "black"},
 "encoding": {"x": {"field": "x", "type": "quantitative", "axis": null}, "y": {"field": "y", "type": "quantitative", "axis": null}, "text": {"field": "t"}}},
{"data": {"values": [{"x": 6.62, "y": 0.329, "t": "MC"}]},
 "mark": {"type": "text", "align": "left", "baseline": "middle", "font": "Liberation Sans", "fontWeight": "bold", "fontSize": 50, "color": "black"},
 "encoding": {"x": {"field": "x", "type": "quantitative", "axis": null}, "y": {"field": "y", "type": "quantitative", "axis": null}, "text": {"field": "t"}}}
]
},
{
"width": 702, "height": 271,
"resolve": {"axis": {"x": "independent", "y": "independent"}},
"layer": [
{"data": {"name": "ele"},
 "mark": {"type": "point", "shape": "cross", "filled": true, "size": 25, "color": "#2ea02e", "opacity": 1},
 "encoding": {
  "x": {"field": "x", "type": "quantitative", "scale": {"domain": [0, 10], "nice": false, "zero": false},
        "axis": {"orient": "bottom", "values": [0,1,2,3,4,5,6,7,8,9,10], "format": "d", "offset": -8, "tickSize": 8, "tickWidth": 2, "tickColor": "black", "labelPadding": 6, "labelFont": "DejaVu Sans", "labelFontWeight": "bold", "labelFontSize": 20,
                 "title": "Cluster energy / track p", "titleFont": "Liberation Sans", "titleFontSize": 52, "titleFontWeight": "normal", "titleX": 365, "titleY": 105, "titleBaseline": "alphabetic", "titleAlign": "center"}},
  "y": {"field": "y", "type": "quantitative", "scale": {"domain": [0, 1.05], "nice": false, "zero": false},
        "axis": {"orient": "left", "values": [0, 0.5, 1], "format": "~g", "offset": -9, "tickSize": 9, "tickWidth": 2, "tickColor": "black", "labelPadding": 7, "labelFont": "DejaVu Sans", "labelFontWeight": "bold", "labelFontSize": 20, "title": null}}
 }},
{"data": {"name": "curve"},
 "mark": {"type": "line", "color": "#bb0000", "strokeWidth": 2.2, "clip": true},
 "encoding": {
  "x": {"field": "x", "type": "quantitative", "scale": {"domain": [0, 10], "nice": false, "zero": false},
        "axis": {"orient": "bottom", "values": [0.2,0.4,0.6,0.8,1.2,1.4,1.6,1.8,2.2,2.4,2.6,2.8,3.2,3.4,3.6,3.8,4.2,4.4,4.6,4.8,5.2,5.4,5.6,5.8,6.2,6.4,6.6,6.8,7.2,7.4,7.6,7.8,8.2,8.4,8.6,8.8,9.2,9.4,9.6,9.8], "labels": false, "offset": -4, "tickSize": 4, "tickWidth": 1.5, "tickColor": "black", "title": null}},
  "y": {"field": "y", "type": "quantitative", "scale": {"domain": [0, 1.05], "nice": false, "zero": false},
        "axis": {"orient": "left", "values": [0.1,0.2,0.3,0.4,0.6,0.7,0.8,0.9], "labels": false, "offset": -5, "tickSize": 5, "tickWidth": 1.5, "tickColor": "black", "title": null}}
 }},
{"data": {"values": [{"x": 0.96, "y": 0.74, "t": "ξ"}]},
 "mark": {"type": "text", "align": "left", "baseline": "middle", "font": "Liberation Serif", "fontSize": 30, "color": "#c00000"},
 "encoding": {"x": {"field": "x", "type": "quantitative", "axis": {"orient": "top", "values": [0,1,2,3,4,5,6,7,8,9,10], "labels": false, "offset": -4, "tickSize": 4, "tickWidth": 2, "tickColor": "black", "title": null}}, "y": {"field": "y", "type": "quantitative", "axis": null}, "text": {"field": "t"}}},
{"data": {"values": [{"x": 1.3, "y": 0.74, "t": "= 0.2"}]},
 "mark": {"type": "text", "align": "left", "baseline": "middle", "font": "DejaVu Sans", "fontWeight": "bold", "fontSize": 25, "color": "#c00000"},
 "encoding": {"x": {"field": "x", "type": "quantitative", "axis": null}, "y": {"field": "y", "type": "quantitative", "axis": null}, "text": {"field": "t"}}},
{"data": {"values": [{"x": 6.51, "y": 0.508, "t": "Electron"}]},
 "mark": {"type": "text", "align": "left", "baseline": "middle", "font": "DejaVu Sans", "fontWeight": "bold", "fontSize": 26, "color": "black"},
 "encoding": {"x": {"field": "x", "type": "quantitative", "axis": null}, "y": {"field": "y", "type": "quantitative", "axis": null}, "text": {"field": "t"}}},
{"data": {"values": [{"x": 6.59, "y": 0.341, "t": "MC"}]},
 "mark": {"type": "text", "align": "left", "baseline": "middle", "font": "Liberation Sans", "fontWeight": "bold", "fontSize": 50, "color": "black"},
 "encoding": {"x": {"field": "x", "type": "quantitative", "axis": null}, "y": {"field": "y", "type": "quantitative", "axis": null}, "text": {"field": "t"}}}
]
}
]
}
